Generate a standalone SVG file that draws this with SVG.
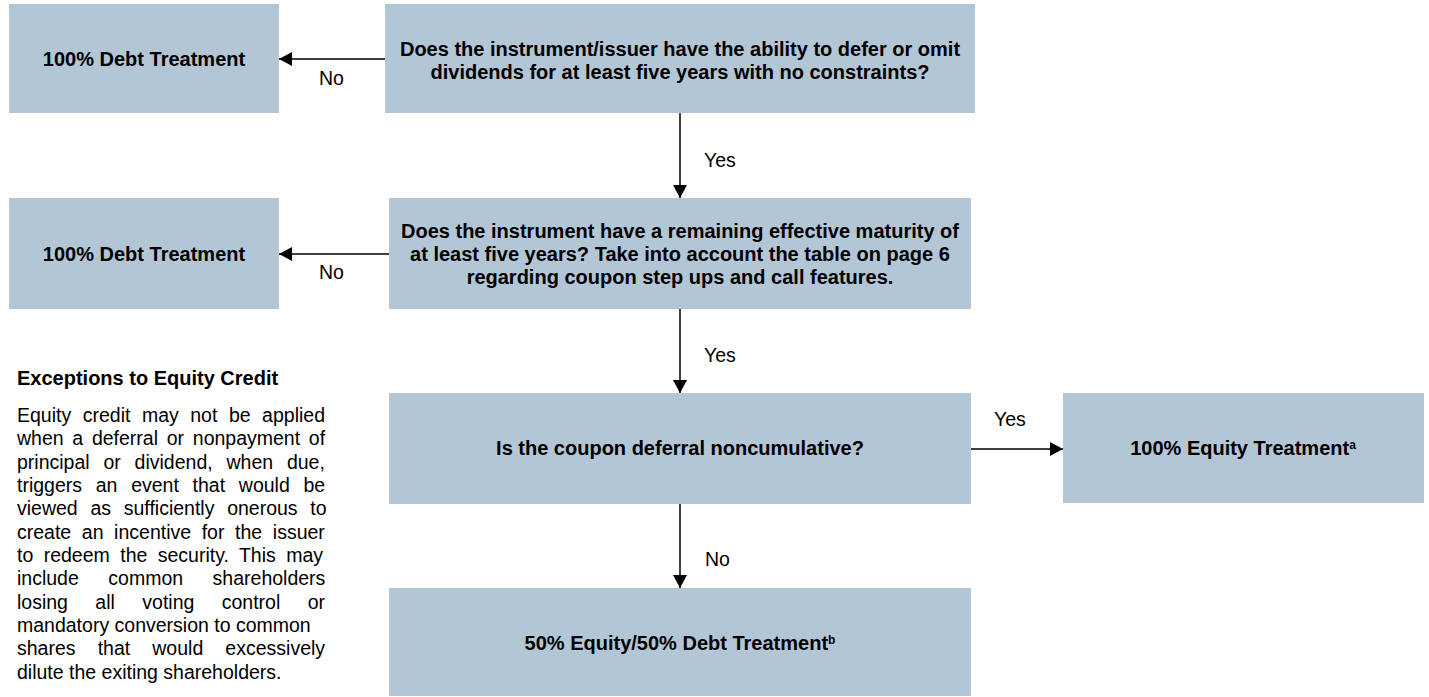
<svg xmlns="http://www.w3.org/2000/svg" width="1429" height="697" viewBox="0 0 1429 697">
  <style>
    .box { fill: #B3C6D6; }
    .bt { font-family: "Liberation Sans", Arial, sans-serif; font-weight: bold; font-size: 20px; fill: #000; text-anchor: middle; }
    .lbl { font-family: "Liberation Sans", Arial, sans-serif; font-size: 19.5px; fill: #000; }
    .body { font-family: "Liberation Sans", Arial, sans-serif; font-size: 19.5px; fill: #000; }
    .title { font-family: "Liberation Sans", Arial, sans-serif; font-weight: bold; font-size: 20px; fill: #000; }
    .conn { stroke: #000; stroke-width: 1.5; fill: none; marker-end: url(#arrow); }
  </style>
  <defs>
    <marker id="arrow" markerUnits="userSpaceOnUse" markerWidth="14" markerHeight="14" refX="13" refY="7" orient="auto">
      <path d="M0,0 L13,7 L0,14 z" fill="#000"/>
    </marker>
  </defs>
  <rect width="1429" height="697" fill="#fff"/>

  <g id="debt1">
    <rect class="box" x="9" y="4" width="270" height="109"/>
    <text class="bt" x="144" y="66">100% Debt Treatment</text>
  </g>
  <g id="q1">
    <rect class="box" x="385" y="4" width="590" height="109"/>
    <text class="bt" x="680" y="56">Does the instrument/issuer have the ability to defer or omit</text>
    <text class="bt" x="680" y="79">dividends for at least five years with no constraints?</text>
  </g>
  <g id="debt2">
    <rect class="box" x="9" y="198" width="270" height="111"/>
    <text class="bt" x="144" y="261">100% Debt Treatment</text>
  </g>
  <g id="q2">
    <rect class="box" x="389" y="198" width="582" height="111"/>
    <text class="bt" x="680" y="238">Does the instrument have a remaining effective maturity of</text>
    <text class="bt" x="680" y="261">at least five years? Take into account the table on page 6</text>
    <text class="bt" x="680" y="284">regarding coupon step ups and call features.</text>
  </g>
  <g id="q3">
    <rect class="box" x="389" y="393" width="582" height="111"/>
    <text class="bt" x="680" y="455">Is the coupon deferral noncumulative?</text>
  </g>
  <g id="equity">
    <rect class="box" x="1063" y="393" width="361" height="110"/>
    <text class="bt" x="1243" y="455">100% Equity Treatment<tspan font-size="12" dy="-6">a</tspan></text>
  </g>
  <g id="split">
    <rect class="box" x="389" y="588" width="582" height="108"/>
    <text class="bt" x="680" y="650">50% Equity/50% Debt Treatment<tspan font-size="12" dy="-6">b</tspan></text>
  </g>

  <g id="connectors">
    <line class="conn" x1="385" y1="59" x2="279" y2="59"/>
    <line class="conn" x1="389" y1="254" x2="279" y2="254"/>
    <line class="conn" x1="680" y1="113" x2="680" y2="198"/>
    <line class="conn" x1="680" y1="309" x2="680" y2="393"/>
    <line class="conn" x1="971" y1="449" x2="1063" y2="449"/>
    <line class="conn" x1="680" y1="504" x2="680" y2="588"/>
    <text class="lbl" x="319" y="85">No</text>
    <text class="lbl" x="319" y="279">No</text>
    <text class="lbl" x="704" y="167">Yes</text>
    <text class="lbl" x="704" y="362">Yes</text>
    <text class="lbl" x="994" y="426">Yes</text>
    <text class="lbl" x="705" y="566">No</text>
  </g>

  <g id="exceptions">
    <text class="title" x="17" y="385">Exceptions to Equity Credit</text>
    <text class="body" x="17" y="422" word-spacing="6.1">Equity credit may not be applied</text>
    <text class="body" x="17" y="445.3" word-spacing="3.3">when a deferral or nonpayment of</text>
    <text class="body" x="17" y="468.7" word-spacing="8.4">principal or dividend, when due,</text>
    <text class="body" x="17" y="492" word-spacing="8.3">triggers an event that would be</text>
    <text class="body" x="17" y="515.3" word-spacing="7.3">viewed as sufficiently onerous to</text>
    <text class="body" x="17" y="538.7" word-spacing="5.2">create an incentive for the issuer</text>
    <text class="body" x="17" y="562" word-spacing="5.0">to redeem the security. This may</text>
    <text class="body" x="17" y="585.3" word-spacing="24.1">include common shareholders</text>
    <text class="body" x="17" y="608.7" word-spacing="22">losing all voting control or</text>
    <text class="body" x="17" y="632">mandatory conversion to common</text>
    <text class="body" x="17" y="655.3" word-spacing="16.7">shares that would excessively</text>
    <text class="body" x="17" y="678.7">dilute the exiting shareholders.</text>
  </g>
</svg>
